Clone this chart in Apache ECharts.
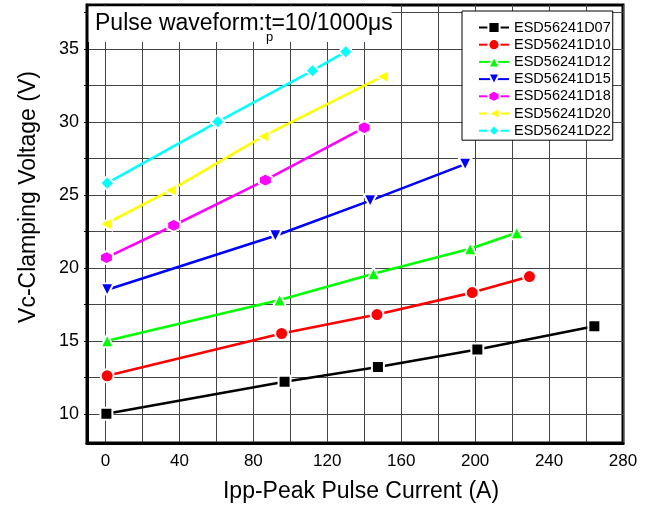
<!DOCTYPE html>
<html>
<head>
<meta charset="utf-8">
<script src="https://cdn.jsdelivr.net/npm/echarts@6/dist/echarts.min.js"></script>
<style>html,body{margin:0;padding:0;background:#fff}#c{width:653px;height:509px}</style>
</head>
<body>
<div id="c"></div>
<script>
var seriesNames = ['ESD56241D07','ESD56241D10','ESD56241D12','ESD56241D15','ESD56241D18','ESD56241D20','ESD56241D22'];
var d07 = [[0.5,10.0],[96.9,12.2],[147.4,13.2],[201.2,14.4],[264.5,16.0]];
var d10 = [[0.9,12.6],[95.3,15.5],[146.9,16.8],[198.4,18.3],[229.4,19.4]];
var d12 = [[0.9,15.0],[94.2,17.8],[145.0,19.6],[197.3,21.3],[222.5,22.4]];
var d15 = [[0.9,18.5],[91.9,22.2],[143.2,24.6],[194.6,27.1]];
var d18 = [[0.5,20.7],[36.9,22.9],[86.5,26.0],[140.0,29.6]];
var d20 = [[0.0,23.0],[35.1,25.3],[85.2,29.0],[149.7,33.1]];
var d22 = [[0.9,25.8],[60.7,30.0],[112.0,33.5],[130.0,34.8]];
var xTicks = [0,20,40,60,80,100,120,140,160,180,200,220,240,260,280];
var xLabels = [0,40,80,120,160,200,240,280];
var yTicks = [10,12.5,15,17.5,20,22.5,25,27.5,30,32.5,35,37.5];
var yLabels = [10,15,20,25,30,35];

var FF = "'Liberation Sans', Arial, sans-serif";
var colors = ['#000000','#ff0000','#00ff00','#0000ff','#ff00ff','#ffff00','#00ffff'];
var symbols = ['rect','circle','triangle','triangle','path://M0,-1L0.866,-0.5L0.866,0.5L0,1L-0.866,0.5L-0.866,-0.5Z','triangle','diamond'];
var rotates = [0,0,0,180,0,90,0];
var sizes = [12,13,13,13,13,13,14];
var datas = [d07,d10,d12,d15,d18,d20,d22];

var series = datas.map(function(d,i){
  return {
    name: seriesNames[i], type:'line', data:d,
    symbol: symbols[i], symbolSize: sizes[i], symbolRotate: rotates[i],
    showAllSymbol: true,
    lineStyle:{color:colors[i], width:2.6},
    itemStyle:{color:colors[i], borderColor:'#fff', borderWidth:2},
    emphasis:{disabled:true}, animation:false, z: 3
  };
});

var chart = echarts.init(document.getElementById('c'));
chart.setOption({
  animation:false,
  backgroundColor:'#fff',
  color: colors,
  grid:{left:87,right:30,top:5,bottom:66,show:true,borderColor:'#000',borderWidth:3,containLabel:false},
  xAxis:{
    type:'value', min:-10, max:280,
    name:'Ipp-Peak Pulse Current (A)', nameLocation:'middle', nameGap:37,
    nameTextStyle:{fontSize:23,color:'#000',fontFamily:FF,padding:[0,0,0,12]},
    axisLine:{show:true,onZero:false,lineStyle:{color:'#000',width:3}},
    axisTick:{show:false,customValues:xTicks},
    axisLabel:{customValues:xLabels,fontSize:17,color:'#000',fontFamily:FF,margin:10},
    splitLine:{show:true,lineStyle:{color:'#444',width:1}}
  },
  yAxis:{
    type:'value', min:8, max:38,
    name:'Vc-Clamping Voltage (V)', nameLocation:'middle', nameGap:47,
    nameTextStyle:{fontSize:23,color:'#000',fontFamily:FF,padding:[0,0,0,54]},
    axisLine:{show:true,onZero:false,lineStyle:{color:'#000',width:3}},
    axisTick:{show:true,inside:false,length:3,customValues:yTicks,lineStyle:{color:'#000',width:1}},
    axisLabel:{customValues:yLabels,fontSize:18,color:'#000',fontFamily:FF,margin:8},
    splitLine:{show:true,lineStyle:{color:'#444',width:1}}
  },
  legend:{
    orient:'vertical', left:462, top:11,
    padding:[9,2,2,16], itemWidth:30, itemHeight:14, itemGap:2.2,
    backgroundColor:'#fff', borderColor:'#000', borderWidth:1,
    textStyle:{fontSize:14.5,lineHeight:14,color:'#000',fontFamily:FF},
    data: seriesNames
  },
  graphic:[
    {type:'rect', z:50, shape:{x:88.5,y:6.5,width:303,height:35.5}, style:{fill:'#fff'}},
    {type:'text', z:51, x:95, y:12, style:{text:'Pulse waveform:t=10/1000μs', font:'23px '+FF, fill:'#000'}},
    {type:'text', z:51, x:266, y:31, style:{text:'p', font:'13px '+FF, fill:'#000'}}
  ],
  series: series
});
</script>
</body>
</html>
